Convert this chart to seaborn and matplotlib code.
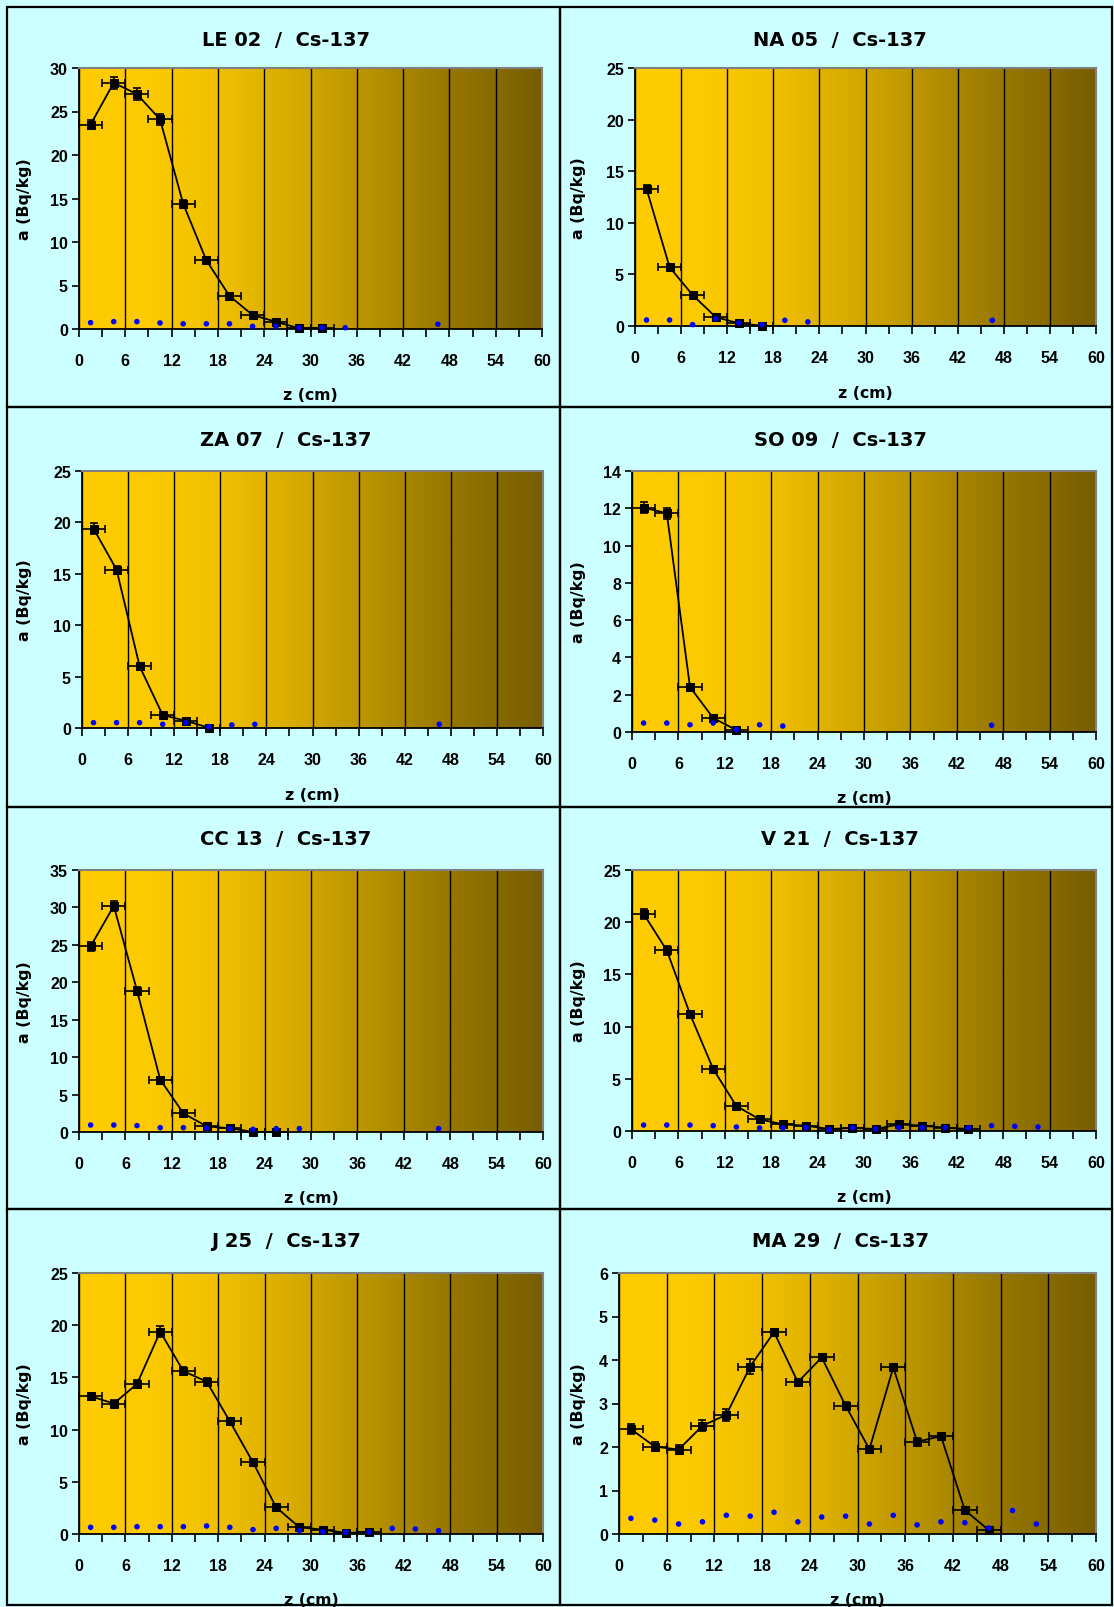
import numpy as np
import pandas as pd
import matplotlib
matplotlib.use("Agg")
import matplotlib.pyplot as plt
import seaborn as sns
from matplotlib.colors import LinearSegmentedColormap
from matplotlib.patches import Rectangle

# ------------------------------------------------------------------ data
LAYER_HALF = 1.5  # half thickness of a 3 cm soil layer (cm)

le02_z = [1.5, 4.5, 7.5, 10.5, 13.5, 16.5, 19.5, 22.5, 25.5, 28.5, 31.5]
le02_a = [23.5, 28.3, 27.0, 24.1, 14.4, 7.9, 3.8, 1.6, 0.85, 0.08, 0.1]
le02_e = [0.5, 0.7, 0.7, 0.6, 0.4, 0.3, 0.2, 0.15, 0.1, 0.05, 0.05]
le02_mz = [1.5, 4.5, 7.5, 10.5, 13.5, 16.5, 19.5, 22.5, 25.5, 28.5, 31.5, 34.5, 46.5]
le02_ma = [0.73, 0.85, 0.85, 0.7, 0.6, 0.6, 0.6, 0.3, 0.3, 0.15, 0.15, 0.15, 0.55]

na05_z = [1.5, 4.5, 7.5, 10.5, 13.5, 16.5]
na05_a = [13.3, 5.7, 3.0, 0.87, 0.26, 0.03]
na05_e = [0.4, 0.25, 0.2, 0.1, 0.05, 0.03]
na05_mz = [1.5, 4.5, 7.5, 10.5, 13.5, 16.5, 19.5, 22.5, 46.5]
na05_ma = [0.58, 0.58, 0.13, 0.7, 0.3, 0.13, 0.55, 0.4, 0.55]

za07_z = [1.5, 4.5, 7.5, 10.5, 13.5, 16.5]
za07_a = [19.4, 15.4, 6.0, 1.26, 0.7, 0.03]
za07_e = [0.5, 0.4, 0.25, 0.1, 0.08, 0.03]
za07_mz = [1.5, 4.5, 7.5, 10.5, 13.5, 16.5, 19.5, 22.5, 46.5]
za07_ma = [0.52, 0.52, 0.52, 0.36, 0.52, 0.13, 0.3, 0.36, 0.36]

so09_z = [1.5, 4.5, 7.5, 10.5, 13.5]
so09_a = [12.04, 11.73, 2.41, 0.75, 0.1]
so09_e = [0.3, 0.3, 0.15, 0.08, 0.04]
so09_mz = [1.5, 4.5, 7.5, 10.5, 13.5, 16.5, 19.5, 46.5]
so09_ma = [0.48, 0.48, 0.39, 0.48, 0.14, 0.39, 0.32, 0.36]

cc13_z = [1.5, 4.5, 7.5, 10.5, 13.5, 16.5, 19.5, 22.5, 25.5]
cc13_a = [24.8, 30.2, 18.9, 7.0, 2.5, 0.76, 0.5, 0.02, 0.02]
cc13_e = [0.6, 0.7, 0.5, 0.3, 0.15, 0.1, 0.08, 0.03, 0.03]
cc13_mz = [1.5, 4.5, 7.5, 10.5, 13.5, 16.5, 19.5, 22.5, 25.5, 28.5, 46.5]
cc13_ma = [0.93, 0.93, 0.85, 0.58, 0.58, 0.5, 0.45, 0.36, 0.45, 0.45, 0.45]

v21_z = [1.5, 4.5, 7.5, 10.5, 13.5, 16.5, 19.5, 22.5, 25.5, 28.5, 31.5,
         34.5, 37.5, 40.5, 43.5]
v21_a = [20.8, 17.3, 11.2, 5.93, 2.39, 1.12, 0.64, 0.51, 0.19, 0.29, 0.19,
         0.64, 0.51, 0.32, 0.19]
v21_e = [0.5, 0.4, 0.3, 0.2, 0.12, 0.08, 0.06, 0.05, 0.04, 0.04, 0.04,
         0.06, 0.05, 0.04, 0.04]
v21_mz = [1.5, 4.5, 7.5, 10.5, 13.5, 16.5, 19.5, 22.5, 25.5, 28.5, 31.5,
          34.5, 37.5, 40.5, 43.5, 46.5, 49.5, 52.5]
v21_ma = [0.57, 0.57, 0.57, 0.51, 0.38, 0.29, 0.29, 0.32, 0.13, 0.32, 0.19,
          0.32, 0.32, 0.32, 0.32, 0.51, 0.45, 0.38]

j25_z = [1.5, 4.5, 7.5, 10.5, 13.5, 16.5, 19.5, 22.5, 25.5, 28.5, 31.5,
         34.5, 37.5]
j25_a = [13.19, 12.5, 14.37, 19.38, 15.6, 14.6, 10.8, 6.86, 2.55, 0.64, 0.42,
         0.1, 0.19]
j25_e = [0.3, 0.35, 0.35, 0.5, 0.35, 0.35, 0.3, 0.2, 0.12, 0.06, 0.05,
         0.04, 0.04]
j25_mz = [1.5, 4.5, 7.5, 10.5, 13.5, 16.5, 19.5, 22.5, 25.5, 28.5, 31.5,
          34.5, 37.5, 40.5, 43.5, 46.5]
j25_ma = [0.64, 0.64, 0.7, 0.7, 0.7, 0.77, 0.64, 0.42, 0.54, 0.32, 0.22,
          0.16, 0.19, 0.54, 0.48, 0.32]

ma29_z = [1.5, 4.5, 7.5, 10.5, 13.5, 16.5, 19.5, 22.5, 25.5, 28.5, 31.5,
          34.5, 37.5, 40.5, 43.5, 46.5]
ma29_a = [2.41, 2.01, 1.94, 2.49, 2.74, 3.85, 4.64, 3.49, 4.06, 2.95, 1.95,
          3.83, 2.12, 2.25, 0.55, 0.09]
ma29_e = [0.12, 0.1, 0.1, 0.12, 0.14, 0.17, 0.08, 0.08, 0.08, 0.08, 0.08,
          0.08, 0.08, 0.06, 0.05, 0.04]
ma29_mz = [1.5, 4.5, 7.5, 10.5, 13.5, 16.5, 19.5, 22.5, 25.5, 28.5, 31.5,
           34.5, 37.5, 40.5, 43.5, 46.5, 49.5, 52.5]
ma29_ma = [0.36, 0.32, 0.23, 0.28, 0.43, 0.41, 0.5, 0.28, 0.39, 0.41, 0.23,
           0.43, 0.21, 0.28, 0.26, 0.14, 0.54, 0.23]

titles = ["LE 02  /  Cs-137", "NA 05  /  Cs-137", "ZA 07  /  Cs-137",
          "SO 09  /  Cs-137", "CC 13  /  Cs-137", "V 21  /  Cs-137",
          "J 25  /  Cs-137", "MA 29  /  Cs-137"]
y_max = [30, 25, 25, 14, 35, 25, 25, 6]
y_step = [5, 5, 5, 2, 5, 5, 5, 1]
x_ticks = list(range(0, 61, 6))
x_label = "z (cm)"
y_label = "a (Bq/kg)"

series = [
    (le02_z, le02_a, le02_e, le02_mz, le02_ma),
    (na05_z, na05_a, na05_e, na05_mz, na05_ma),
    (za07_z, za07_a, za07_e, za07_mz, za07_ma),
    (so09_z, so09_a, so09_e, so09_mz, so09_ma),
    (cc13_z, cc13_a, cc13_e, cc13_mz, cc13_ma),
    (v21_z, v21_a, v21_e, v21_mz, v21_ma),
    (j25_z, j25_a, j25_e, j25_mz, j25_ma),
    (ma29_z, ma29_a, ma29_e, ma29_mz, ma29_ma),
]

# ------------------------------------------------------------------ layout / style
W, H = 1114, 1608
axes_px = [(79, 69, 542, 330), (635, 69, 1096, 327),
           (82, 472, 543, 729), (632, 472, 1096, 733),
           (79, 871, 543, 1133), (632, 871, 1096, 1132),
           (79, 1274, 543, 1535), (619, 1274, 1096, 1535)]
row_bounds = [8, 408, 808, 1210, 1606]
col_bounds = [7, 560, 1112]
title_x = [286, 840]
title_y = [40, 440, 840, 1242]
ylabel_x = [25, 579]

sns.set_style("white")
plt.rcParams["font.family"] = ["Liberation Sans", "DejaVu Sans"]
plt.rcParams["font.weight"] = "bold"
for key in ["text.color", "axes.labelcolor", "xtick.color", "ytick.color"]:
    plt.rcParams[key] = "black"
WIDE = ["DejaVu Sans"]

grad = LinearSegmentedColormap.from_list(
    "soil", [(0.0, "#FFCC00"), (0.15, "#FCCA00"), (0.3, "#F0C000"),
             (0.45, "#D9AD00"), (0.6, "#BE9700"), (0.8, "#967700"),
             (1.0, "#775D00")])

fig = plt.figure(figsize=(W / 100, H / 100), dpi=100, facecolor="#CCFFFF")

# panel frames
for r in range(4):
    for c in range(2):
        x0, x1 = col_bounds[c], col_bounds[c + 1]
        y0, y1 = row_bounds[r], row_bounds[r + 1]
        fig.add_artist(Rectangle((x0 / W, 1 - y1 / H), (x1 - x0) / W, (y1 - y0) / H,
                                 transform=fig.transFigure, fill=False,
                                 ec="black", lw=1.6, zorder=0))

for i, (z, a, e, mz, ma) in enumerate(series):
    l, t, r, b = axes_px[i]
    ax = fig.add_axes([l / W, 1 - b / H, (r - l) / W, (b - t) / H])
    ymax = y_max[i]
    ax.imshow(np.linspace(0, 1, 512)[None, :], cmap=grad, aspect="auto",
              extent=[0, 60, 0, ymax], zorder=0, interpolation="bilinear")
    ax.set_xlim(0, 60)
    ax.set_ylim(0, ymax)
    ax.set_axisbelow(True)
    ax.set_xticks(x_ticks)
    ax.set_xticks(list(range(3, 60, 6)), minor=True)
    ax.set_yticks(np.arange(0, ymax + 1e-9, y_step[i]))
    ax.grid(axis="x", which="major", color="black", lw=1.0)
    ax.grid(axis="y", visible=False)

    ax.errorbar(z, a, xerr=LAYER_HALF, yerr=e, fmt="none", ecolor="black",
                elinewidth=1.2, capsize=3, capthick=1.2, zorder=3, clip_on=False)
    sns.lineplot(x=z, y=a, ax=ax, color="black", lw=1.3, marker="s",
                 markersize=5.5, markeredgecolor="black", sort=False,
                 estimator=None, zorder=4, clip_on=False)
    sns.scatterplot(x=mz, y=ma, ax=ax, color="#0000FF", s=16, edgecolor="none",
                    zorder=5, clip_on=False)

    for side in ["left", "bottom"]:
        ax.spines[side].set_color("black")
        ax.spines[side].set_linewidth(1.3)
    for side in ["top", "right"]:
        ax.spines[side].set_color("#808080")
        ax.spines[side].set_linewidth(1.5)

    ax.tick_params(axis="x", which="both", direction="out", length=6, width=1.2,
                   color="black", labelcolor="black", bottom=True, pad=11.5,
                   labelsize=11.5)
    ax.tick_params(axis="y", which="major", direction="out", length=5, width=1.2,
                   color="black", labelcolor="black", left=True, pad=3,
                   labelsize=11.5)
    for lab in ax.get_xticklabels() + ax.get_yticklabels():
        lab.set_fontweight("bold")

    h_px = b - t
    ax.set_xlabel(x_label, fontsize=11.3, fontweight="bold", va="center",
                  family=WIDE, color="black")
    ax.xaxis.set_label_coords(0.5, -66 / h_px)
    ax.set_ylabel(y_label, fontsize=11.3, fontweight="bold", va="center",
                  family=WIDE, color="black")
    col = i % 2
    row = i // 2
    ax.yaxis.set_label_coords(ylabel_x[col] / W, 1 - ((t + b) / 2) / H,
                              transform=fig.transFigure)
    fig.text(title_x[col] / W, 1 - title_y[row] / H, titles[i], ha="center",
             va="center", fontsize=14, fontweight="bold", family=WIDE,
             color="black")

fig.savefig("out.png", dpi=100, facecolor=fig.get_facecolor())
